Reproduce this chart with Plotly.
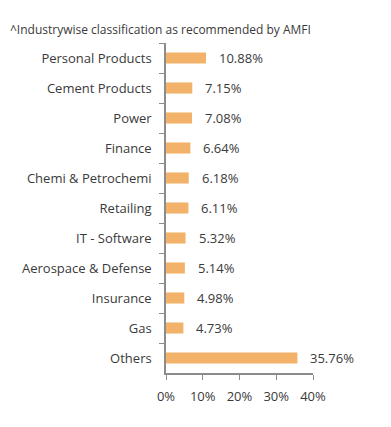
import plotly.graph_objects as go

categories = ["Personal Products", "Cement Products", "Power", "Finance", "Chemi & Petrochemi",
              "Retailing", "IT - Software", "Aerospace & Defense", "Insurance", "Gas", "Others"]
values = [10.88, 7.15, 7.08, 6.64, 6.18, 6.11, 5.32, 5.14, 4.98, 4.73, 35.76]
x_ticks = [0, 10, 20, 30, 40]
x_tick_labels = ["0%", "10%", "20%", "30%", "40%"]
title = "^Industrywise classification as recommended by AMFI"

font_family = "Open Sans, sans-serif"
text_color = "#3a3a3a"

fig = go.Figure(go.Bar(
    x=values, y=categories, orientation="h",
    marker=dict(color="#F2B26A", line=dict(width=0)),
    width=0.37,
    hoverinfo="skip",
))

for c, v in zip(categories, values):
    fig.add_annotation(x=v, y=c, text=f"{v:.2f}%", showarrow=False,
                       xanchor="left", xshift=11, yshift=0,
                       font=dict(family=font_family, size=13, color=text_color))

fig.add_annotation(text=title, xref="paper", yref="paper", x=-158/147, y=1,
                   xanchor="left", yanchor="bottom", yshift=3, showarrow=False,
                   font=dict(family=font_family, size=12, color=text_color))

fig.update_layout(
    width=391, height=427,
    margin=dict(l=166, r=78, t=43, b=54),
    paper_bgcolor="white", plot_bgcolor="white",
    showlegend=False,
    font=dict(family=font_family, size=13, color=text_color),
)
fig.update_yaxes(
    categoryorder="array", categoryarray=categories, autorange="reversed",
    showline=True, linecolor="#8c8c8c", linewidth=1.5,
    ticks="outside", ticklen=5, tickcolor="#8c8c8c", tickson="boundaries",
    showgrid=False, ticklabelstandoff=10,
)
fig.update_xaxes(
    range=[0, 40], tickvals=x_ticks, ticktext=x_tick_labels,
    showline=True, linecolor="#8c8c8c", linewidth=1.5,
    ticks="outside", ticklen=5, tickcolor="#8c8c8c",
    showgrid=False, zeroline=False, ticklabelstandoff=6,
)

fig.write_html("out.html", config={"displayModeBar": False},
               post_script="document.body.style.margin='0';")
